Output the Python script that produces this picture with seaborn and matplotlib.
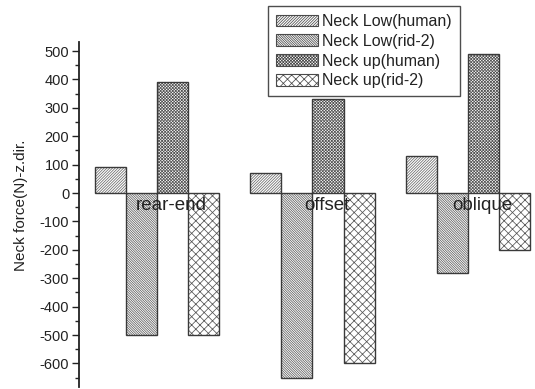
import numpy as np
import pandas as pd
import matplotlib
matplotlib.use("Agg")
import matplotlib.pyplot as plt
import seaborn as sns

categories = ['rear-end', 'offset', 'oblique']
series = ['Neck Low(human)', 'Neck Low(rid-2)', 'Neck up(human)', 'Neck up(rid-2)']
low_human = [92, 72, 130]
low_rid2 = [-500, -650, -280]
up_human = [390, 330, 490]
up_rid2 = [-500, -600, -200]
y_ticks = list(range(-600, 501, 100))

sns.set_theme(style='white')
plt.rcParams['font.family'] = ['Liberation Sans', 'DejaVu Sans']
plt.rcParams['hatch.linewidth'] = 0.55
plt.rcParams['axes.unicode_minus'] = False

rows = []
for name, vals in zip(series, [low_human, low_rid2, up_human, up_rid2]):
    for c, v in zip(categories, vals):
        rows.append({'case': c, 'force': v, 'series': name})
df = pd.DataFrame(rows)

fig = plt.figure(figsize=(5.35, 3.89), dpi=100)
ax = fig.add_axes([79 / 535, 1 - 387 / 389, 1 - 79 / 535, (387 - 42) / 389])

sns.barplot(data=df, x='case', y='force', hue='series', order=categories,
            hue_order=series, width=0.8, ax=ax, legend=False, errorbar=None)

hatches = ['/' * 12, '\\' * 14, 'x' * 11, 'xxxx']
hatch_col = ['#6a6a6a', '#5e5e5e', '#555555', '#555555']
edge = '#3a3a3a'
for cont, h, hc in zip(ax.containers, hatches, hatch_col):
    for p in cont.patches:
        p.set_facecolor('white')
        p.set_edgecolor(hc)
        p.set_hatch(h)
        p.set_linewidth(0.0)
        ax.add_patch(plt.Rectangle(p.get_xy(), p.get_width(), p.get_height(),
                                   fill=False, edgecolor=edge, lw=1.0,
                                   zorder=p.get_zorder() + 0.1))

ax.set_ylim(-683, 532)
ax.set_xlim(-0.5, 2.43)
ax.set_yticks(y_ticks)
ax.set_yticks(np.arange(-650, 532, 100), minor=True)
ax.tick_params(axis='y', which='major', direction='out', length=5, width=1,
               labelsize=10.5, colors='#222222', left=True, pad=2)
ax.tick_params(axis='y', which='minor', direction='out', length=3, width=1,
               left=True, colors='#222222')

ax.set_xticks(np.arange(len(categories)) + 0.09)
ax.set_xticklabels(categories)
ax.spines['bottom'].set_position(('data', 0))
ax.spines['bottom'].set_visible(False)
ax.tick_params(axis='x', length=0, pad=3, labelsize=13.5, labelcolor='#222222')
ax.set_axisbelow(False)
for s in ['top', 'right']:
    ax.spines[s].set_visible(False)
ax.spines['left'].set_color('#222222')
ax.spines['left'].set_linewidth(1.3)
ax.set_xlabel('')
ax.set_ylabel('Neck force(N)-z.dir.', fontsize=11, color='#222222')
ax.yaxis.set_label_coords((28 - 79) / 456, (387 - 205) / 345)

leg = ax.legend(ax.containers, series, loc='upper left',
                bbox_to_anchor=(268 / 535, 1 - 6 / 389), bbox_transform=fig.transFigure,
                borderaxespad=0, fontsize=11.5, frameon=True, fancybox=False,
                edgecolor='#222222', handlelength=2.6, handleheight=0.75,
                handletextpad=0.3, labelspacing=0.3, borderpad=0.5)
leg.get_frame().set_linewidth(1.0)
for t in leg.get_texts():
    t.set_color('#222222')
for h in leg.legend_handles:
    h.set_edgecolor('#4a4a4a')
    h.set_linewidth(0.8)

fig.savefig('out.png', dpi=100)
